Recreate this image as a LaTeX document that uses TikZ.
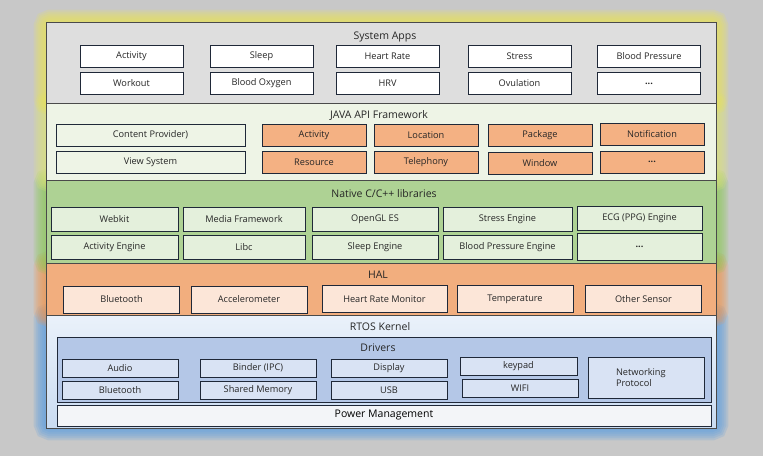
\documentclass[tikz,border=0pt]{standalone}
\usepackage{fontspec}
\setmainfont{Open Sans}
\usetikzlibrary{backgrounds}

\definecolor{bggray}{HTML}{C8C8C8}
\definecolor{layerline}{HTML}{4A4A4A}
\definecolor{boxline}{HTML}{1F2838}
\definecolor{sysfill}{HTML}{DEDEDE}
\definecolor{javafill}{HTML}{EEF4E6}
\definecolor{nativefill}{HTML}{AED294}
\definecolor{nativebox}{HTML}{E4F0DC}
\definecolor{halfill}{HTML}{F2AE7E}
\definecolor{halbox}{HTML}{FCE6D8}
\definecolor{orangebox}{HTML}{F4B183}
\definecolor{rtostop}{HTML}{EAF1FA}
\definecolor{rtosbottom}{HTML}{CADCF2}
\definecolor{drvfill}{HTML}{B4C7E7}
\definecolor{drvbox}{HTML}{D9E3F4}
\definecolor{powerfill}{HTML}{F3F5F8}
\definecolor{glowyellow}{HTML}{E8E25A}
\definecolor{glowlime}{HTML}{DCE27A}
\definecolor{glowgreen}{HTML}{8CC85A}
\definecolor{gloworange}{HTML}{F0954E}
\definecolor{glowblue}{HTML}{5C9EE0}

\begin{document}
\begin{tikzpicture}[x=1pt, y=-1pt,
    layer/.style={rectangle, draw=layerline, line width=0.8pt, inner sep=0pt},
    title/.style={font=\fontsize{10.5}{12}\selectfont, text=black!85, inner sep=0pt},
    box/.style={rectangle, draw=boxline, line width=0.9pt, inner sep=1pt, align=center, font=\fontsize{9.2}{10.5}\selectfont, text=black!85},
    appbox/.style={box, fill=white, minimum width=103pt, minimum height=22pt},
    apibox/.style={box, fill=orangebox, minimum width=104pt, minimum height=22pt},
    libbox/.style={box, fill=nativebox, minimum height=24pt},
    halbox/.style={box, fill=halbox, minimum width=116pt, minimum height=27pt},
    drvbox/.style={box, fill=drvbox, minimum width=116pt, minimum height=18pt}
]

% Layers
\node[layer, fill=sysfill, minimum width=670pt, minimum height=81pt] at (381,62.5) (sys) {};
\node[layer, fill=javafill, minimum width=670pt, minimum height=77pt] at (381,141.5) (java) {};
\node[layer, fill=nativefill, minimum width=670pt, minimum height=83pt] at (381,221.5) (native) {};
\node[layer, fill=halfill, minimum width=670pt, minimum height=52pt] at (381,289) (hal) {};
\node[layer, top color=rtostop, bottom color=rtosbottom, minimum width=670pt, minimum height=113pt] at (381,371.5) (rtos) {};

% Layer Headings
\node[title] at (385,37) (systitle) {System Apps};
\node[title] at (379,115) (javatitle) {JAVA API Framework};
\node[title] at (384,194) (nativetitle) {Native C/C++ libraries};
\node[title] at (378,275) (haltitle) {HAL};
\node[title] at (380,327) (rtostitle) {RTOS Kernel};

% System Apps
\node[appbox] at (131.5,56) (activity) {Activity};
\node[appbox] at (261.5,56) (sleep) {Sleep};
\node[appbox] at (387.5,56) (heartrate) {Heart Rate};
\node[appbox] at (519.5,56) (stress) {Stress};
\node[appbox] at (649,56) (bloodpressure) {Blood Pressure};
\node[appbox] at (131.5,83.5) (workout) {Workout};
\node[appbox] at (261.5,83.5) (bloodoxygen) {Blood Oxygen};
\node[appbox] at (387.5,83.5) (hrv) {HRV};
\node[appbox] at (519.5,83.5) (ovulation) {Ovulation};
\node[appbox] at (649,83.5) (appmore) {\textbf{...}};

% JAVA API Framework
\node[box, fill=javafill, minimum width=189pt, minimum height=22pt] at (150.5,135) (content) {Content Provider)};
\node[box, fill=javafill, minimum width=189pt, minimum height=22pt] at (150.5,162.5) (viewsys) {View System};
\node[apibox] at (314,135) (apiactivity) {Activity};
\node[apibox] at (426,135) (location) {Location};
\node[apibox] at (540,135) (package) {Package};
\node[apibox] at (652,134) (notification) {Notification};
\node[apibox] at (314,162.5) (resource) {Resource};
\node[apibox] at (426,162) (telephony) {Telephony};
\node[apibox] at (540,163) (window) {Window};
\node[apibox] at (652,162) (apimore) {\textbf{...}};

% Native C/C++ libraries
\node[libbox, minimum width=127pt] at (114.5,219.5) (webkit) {Webkit};
\node[libbox, minimum width=122pt] at (244,219.5) (media) {Media Framework};
\node[libbox, minimum width=126pt] at (375,219.5) (opengl) {OpenGL ES};
\node[libbox, minimum width=129pt] at (507.5,219) (stresseng) {Stress Engine};
\node[libbox, minimum width=125pt] at (639.5,218) (ecg) {ECG (PPG) Engine};
\node[libbox, minimum width=127pt] at (114.5,247.5) (activityeng) {Activity Engine};
\node[libbox, minimum width=122pt] at (244,247.5) (libc) {Libc};
\node[libbox, minimum width=126pt] at (375,247.5) (sleepeng) {Sleep Engine};
\node[libbox, minimum width=129pt] at (507.5,247.5) (bpeng) {Blood Pressure Engine};
\node[libbox, minimum width=125pt, minimum height=27pt] at (639.5,246.5) (libmore) {\textbf{...}};

% HAL
\node[halbox] at (121.5,299.5) (halbt) {Bluetooth};
\node[halbox] at (249,299.5) (accel) {Accelerometer};
\node[halbox, minimum width=125pt] at (384.5,299) (hrmonitor) {Heart Rate Monitor};
\node[halbox] at (515,299) (temp) {Temperature};
\node[halbox] at (643.5,299) (othersensor) {Other Sensor};

% RTOS Kernel
\node[layer, draw=boxline, fill=drvfill, minimum width=654pt, minimum height=65pt] at (384,369.5) (drivers) {};
\node[title] at (378,348) (drvtitle) {Drivers};
\node[drvbox] at (120,368.5) (audio) {Audio};
\node[drvbox] at (258,368) (binder) {Binder (IPC)};
\node[drvbox] at (389,368) (display) {Display};
\node[drvbox, minimum width=117pt] at (518.5,366.5) (keypad) {keypad};
\node[drvbox] at (120,390) (drvbt) {Bluetooth};
\node[drvbox] at (258,390) (shmem) {Shared Memory};
\node[drvbox] at (389,390) (usb) {USB};
\node[drvbox] at (520,388) (wifi) {WIFI};
\node[drvbox, minimum height=41pt, text width=60pt, align=left] at (646,377.5) (netproto) {Networking\\Protocol};
\node[layer, draw=boxline, fill=powerfill, minimum width=654pt, minimum height=21pt, font=\fontsize{10.5}{12}\selectfont] at (384,415.5) (power) {Power Management};

% Glow and background
\begin{scope}[on background layer]
\fill[bggray] (0,0) rectangle (763,456);
\foreach \lay/\col in {rtos/glowblue, hal/gloworange, native/glowgreen, java/glowlime, sys/glowyellow}
  \foreach \g in {4,8,...,24}
    \draw[line width=\g pt, draw=\col, opacity=0.2, rounded corners=5pt] (\lay.south west) rectangle (\lay.north east);
\end{scope}

\end{tikzpicture}
\end{document}
